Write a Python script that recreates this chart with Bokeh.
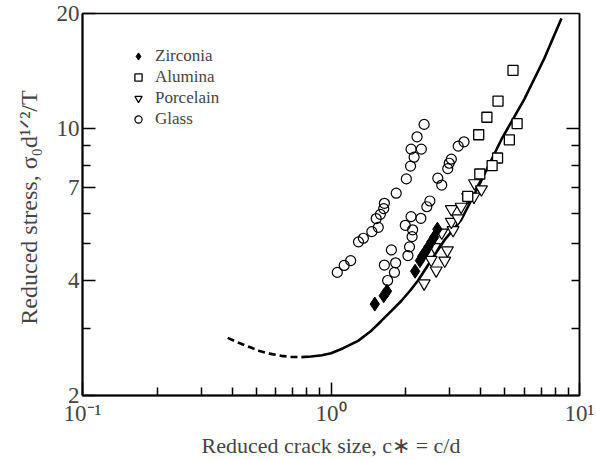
from bokeh.plotting import figure
from bokeh.models import FixedTicker, LogAxis, Legend, LegendItem
from bokeh.embed import file_html
from bokeh.resources import INLINE

# ---- data ----
zirconia_x = [1.50, 1.63, 1.68, 2.18, 2.28, 2.33, 2.39, 2.46, 2.53, 2.60, 2.68]
zirconia_y = [3.47, 3.65, 3.75, 4.23, 4.51, 4.63, 4.74, 4.89, 5.04, 5.19, 5.45]

alumina_x = [5.40, 4.70, 4.24, 3.93, 5.61, 5.22, 4.68, 4.45, 3.97, 3.55]
alumina_y = [14.2, 11.8, 10.7, 9.63, 10.3, 9.34, 8.37, 7.99, 7.60, 6.64]

porcelain_x = [2.37, 2.61, 2.65, 2.87, 2.94, 2.79, 3.10, 3.05, 3.24, 3.05, 3.34, 3.55, 3.76, 3.78, 4.03, 2.53]
porcelain_y = [3.93, 4.89, 4.25, 4.51, 4.80, 5.34, 5.42, 5.70, 5.82, 6.15, 6.24, 6.62, 6.63, 7.19, 6.93, 4.53]

glass_x = [2.37, 2.22, 2.10, 2.31, 2.16, 2.09, 2.01, 1.83, 1.64, 1.63, 1.58, 1.52, 1.55, 1.46, 1.35, 1.29, 1.20, 1.13, 1.06,
           3.43, 3.25, 3.05, 2.99, 2.95, 2.69, 2.79, 2.50, 2.43, 2.10, 2.30, 1.99, 2.13, 2.12, 2.07, 2.04, 1.75, 1.64, 1.82, 1.80, 1.69]
glass_y = [10.25, 9.51, 8.83, 8.83, 8.41, 7.97, 7.38, 6.77, 6.37, 6.17, 5.96, 5.81, 5.51, 5.37, 5.16, 5.05, 4.51, 4.38, 4.20,
           9.23, 8.99, 8.31, 8.11, 7.85, 7.41, 7.11, 6.46, 6.24, 5.88, 5.82, 5.58, 5.43, 5.21, 4.90, 4.65, 4.81, 4.39, 4.45, 4.20, 4.00]

dashed_x = [0.384, 0.43, 0.476, 0.52, 0.573, 0.63, 0.69, 0.76]
dashed_y = [2.83, 2.74, 2.67, 2.61, 2.57, 2.54, 2.525, 2.52]

solid_x = [0.76, 0.831, 0.92, 1.0, 1.12, 1.285, 1.44, 1.59, 1.75, 1.92, 2.08, 2.24, 2.53, 2.86, 3.34, 3.91, 4.85, 6.00, 7.2, 8.46]
solid_y = [2.52, 2.53, 2.55, 2.58, 2.66, 2.78, 2.94, 3.13, 3.33, 3.54, 3.76, 4.00, 4.52, 5.10, 5.76, 7.03, 9.36, 11.94, 15.2, 19.4]

x_major = [0.1, 1, 10]
x_minor = [0.2, 0.3, 0.4, 0.5, 0.6, 0.7, 0.8, 0.9, 2, 3, 4, 5, 6, 7, 8, 9]
x_labels = {0.1: "10\u207b\u00b9", 1: "10\u2070", 10: "10\u00b9"}
y_major = [2, 4, 7, 10, 20]
y_minor = [3, 5, 6, 8, 9]
y_labels = {2: "2", 4: "4", 7: "7", 10: "10", 20: "20"}

FONT = "Liberation Serif"

p = figure(width=596, height=460, x_axis_type="log", y_axis_type="log",
           x_range=(0.1, 10), y_range=(2, 20),
           output_backend="svg", toolbar_location=None,
           min_border_left=82, min_border_right=17, min_border_top=13, min_border_bottom=64)
p.background_fill_color = "white"
p.border_fill_color = "white"
p.grid.visible = False
p.outline_line_color = "black"
p.outline_line_width = 1.5

p.line(dashed_x, dashed_y, line_color="black", line_width=2.6, line_dash="7 4")
p.line(solid_x, solid_y, line_color="black", line_width=2.6)

r_g = p.scatter(glass_x, glass_y, marker="circle", size=10, fill_color=None, line_color="black", line_width=1.2)
r_p = p.scatter(porcelain_x, porcelain_y, marker="inverted_triangle", size=12, fill_color="white", line_color="black", line_width=1.2)
r_a = p.scatter(alumina_x, alumina_y, marker="square", size=10, fill_color="white", line_color="black", line_width=1.3)
r_z = p.scatter(zirconia_x, zirconia_y, marker="diamond", size=14, fill_color="black", line_color="black")

legend = Legend(items=[LegendItem(label="Zirconia", renderers=[r_z]),
                       LegendItem(label="Alumina", renderers=[r_a]),
                       LegendItem(label="Porcelain", renderers=[r_p]),
                       LegendItem(label="Glass", renderers=[r_g])],
                location=(47, 266), orientation="vertical")
legend.border_line_alpha = 0
legend.background_fill_alpha = 0
legend.padding = 0
legend.margin = 0
legend.spacing = 1
legend.glyph_width = 18
legend.glyph_height = 18
legend.label_height = 18
legend.label_standoff = 8
legend.label_text_font = FONT
legend.label_text_font_size = "17px"
p.add_layout(legend)

xa = p.xaxis[0]
xa.ticker = FixedTicker(ticks=x_major, minor_ticks=x_minor)
xa.major_label_overrides = x_labels
ya = p.yaxis[0]
ya.ticker = FixedTicker(ticks=y_major, minor_ticks=y_minor)
ya.major_label_overrides = y_labels

xa.axis_label = "Reduced crack size, c\u2217 = c/d"
ya.axis_label = "Reduced  stress, \u03c3\u2080d\u00b9\u141f\u00b2/T"

for ax in (xa, ya):
    ax.axis_line_width = 2
    ax.major_tick_in = 13
    ax.major_tick_out = 0
    ax.minor_tick_in = 8
    ax.minor_tick_out = 0
    ax.major_tick_line_width = 1.5
    ax.minor_tick_line_width = 1.5
    ax.major_label_text_font = FONT
    ax.major_label_text_font_size = "23px"
    ax.axis_label_text_font = FONT
    ax.axis_label_text_font_size = "22px"
    ax.axis_label_text_font_style = "normal"
ya.axis_label_text_font_size = "24px"
xa.major_label_standoff = 5
xa.axis_label_standoff = 4
ya.major_label_standoff = 3
ya.axis_label_standoff = 12

ra = LogAxis(ticker=FixedTicker(ticks=[10], minor_ticks=[3, 4, 5, 6, 7, 8, 9]))
ra.major_label_overrides = {10: ""}
ra.major_tick_in = 13
ra.major_tick_out = 0
ra.minor_tick_in = 8
ra.minor_tick_out = 0
ra.axis_line_width = 1.5
ra.major_tick_line_width = 1.5
ra.minor_tick_line_width = 1.5
ra.major_label_standoff = 0
p.add_layout(ra, "right")

open("out.html", "w").write(file_html(p, INLINE))
